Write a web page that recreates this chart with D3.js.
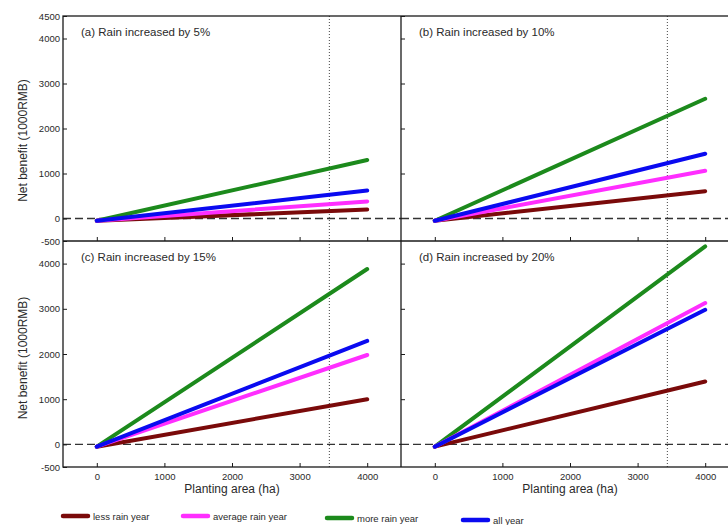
<!DOCTYPE html>
<html>
<head>
<meta charset="utf-8">
<script src="https://cdn.jsdelivr.net/npm/d3@7"></script>
<style>
  html, body { margin: 0; padding: 0; background: #fff; }
  svg { display: block; font-family: "Liberation Sans", Arial, sans-serif; }
</style>
</head>
<body>
<svg id="chart" width="728" height="525"></svg>
<script>
// ---- data ----
const panelLabels = ["(a) Rain increased by 5%", "(b) Rain increased by 10%",
                     "(c) Rain increased by 15%", "(d) Rain increased by 20%"];
const seriesNames = ["less rain year", "average rain year", "more rain year", "all year"];
const seriesColors = ["#7a0a0a", "#ff2eff", "#1c8a1c", "#0a0af0"];
const areaPoints = [0, 4000];
const startValue = -50;
// end values at 4000 ha, per panel, per series (less, average, more, all)
const lessRain    = [200, 607, 1000, 1393];
const averageRain = [378, 1060, 1978, 3127];
const moreRain    = [1300, 2660, 3880, 4380];
const allYear     = [622, 1438, 2289, 2978];
const drawOrder = [2, 0, 1, 3]; // more, less, average, all (all drawn on top)
const yTicks = [-500, 0, 1000, 2000, 3000, 4000, 4500];
const xTicks = [0, 1000, 2000, 3000, 4000];
const optimumArea = 3440;
const xDomain = [-500, 4500];
const yDomain = [-500, 4500];

const seriesEnds = [lessRain, averageRain, moreRain, allYear];

// ---- layout ----
const svg = d3.select("#chart");
const colX = [[63, 401], [401, 739]];
const rowY = [[16, 241], [241, 467]];
const textColor = "#2a2a2a";
const frameColor = "#1a1a1a";
const plainFormat = d => String(d);

panelLabels.forEach((label, p) => {
  const col = p % 2, row = Math.floor(p / 2);
  const x = d3.scaleLinear().domain(xDomain).range(colX[col]);
  const y = d3.scaleLinear().domain(yDomain).range([rowY[row][1], rowY[row][0]]);
  const g = svg.append("g");

  // clip
  const clipId = "clip" + p;
  svg.append("clipPath").attr("id", clipId).append("rect")
    .attr("x", colX[col][0]).attr("y", rowY[row][0])
    .attr("width", colX[col][1] - colX[col][0]).attr("height", rowY[row][1] - rowY[row][0]);

  // zero dashed line
  g.append("line")
    .attr("x1", colX[col][0]).attr("x2", colX[col][1])
    .attr("y1", y(0)).attr("y2", y(0))
    .attr("stroke", "#333").attr("stroke-width", 1.4).attr("stroke-dasharray", "8,4");

  // dotted vertical line
  g.append("line")
    .attr("x1", x(optimumArea)).attr("x2", x(optimumArea))
    .attr("y1", rowY[row][0]).attr("y2", rowY[row][1])
    .attr("stroke", "#444").attr("stroke-width", 1).attr("stroke-dasharray", "1,2");

  // series lines
  const line = d3.line().x(d => x(d[0])).y(d => y(d[1]));
  const lg = g.append("g").attr("clip-path", `url(#${clipId})`);
  drawOrder.forEach(s => {
    const pts = [[areaPoints[0], startValue], [areaPoints[1], seriesEnds[s][p]]];
    lg.append("path").datum(pts)
      .attr("d", line)
      .attr("fill", "none")
      .attr("stroke", seriesColors[s])
      .attr("stroke-width", 4)
      .attr("stroke-linecap", "round");
  });

  // y axis (ticks inward)
  const yValues = row === 0 ? yTicks : yTicks.filter(v => v !== 4500);
  const yAxis = d3.axisLeft(y).tickValues(col === 0 ? yValues : yValues.filter(v => v > 0))
    .tickSize(-4).tickSizeOuter(0).tickPadding(3)
    .tickFormat(col === 0 ? plainFormat : "");
  const ya = g.append("g").attr("transform", `translate(${colX[col][0]},0)`).call(yAxis);
  ya.select(".domain").remove();
  ya.selectAll("line").attr("stroke", frameColor);
  ya.selectAll("text").attr("fill", textColor).attr("font-size", 9.5);

  // x axis (ticks inward)
  const xAxis = d3.axisBottom(x).tickValues(xTicks)
    .tickSize(-4).tickSizeOuter(0).tickPadding(6)
    .tickFormat(row === 1 ? plainFormat : "");
  const xa = g.append("g").attr("transform", `translate(0,${rowY[row][1]})`).call(xAxis);
  xa.select(".domain").remove();
  xa.selectAll("line").attr("stroke", frameColor);
  xa.selectAll("text").attr("fill", textColor).attr("font-size", 9.5);

  // panel label
  g.append("text")
    .attr("x", colX[col][0] + 18).attr("y", rowY[row][0] + 20)
    .attr("font-size", 11.5).attr("fill", textColor)
    .text(label);

  // axis titles
  if (row === 1) {
    g.append("text")
      .attr("x", x(2000)).attr("y", 493)
      .attr("text-anchor", "middle").attr("font-size", 12).attr("fill", textColor)
      .text("Planting area (ha)");
  }
  if (col === 0) {
    const cy = (rowY[row][0] + rowY[row][1]) / 2 + (row === 0 ? 12 : 4);
    g.append("text")
      .attr("transform", `translate(27,${cy}) rotate(-90)`)
      .attr("text-anchor", "middle").attr("font-size", 12).attr("fill", textColor)
      .text("Net benefit (1000RMB)");
  }
});

// frame
const frame = svg.append("g").attr("stroke", frameColor).attr("stroke-width", 1.3).attr("fill", "none");
frame.append("rect").attr("x", colX[0][0]).attr("y", rowY[0][0])
  .attr("width", colX[1][1] - colX[0][0]).attr("height", rowY[1][1] - rowY[0][0]);
frame.append("line").attr("x1", colX[0][1]).attr("x2", colX[0][1]).attr("y1", rowY[0][0]).attr("y2", rowY[1][1]);
frame.append("line").attr("x1", colX[0][0]).attr("x2", colX[1][1]).attr("y1", rowY[0][1]).attr("y2", rowY[0][1]);

// legend
const legendX = [63, 183, 327, 463];
const legendY = [516, 516, 518, 520];
const legend = svg.append("g");
seriesNames.forEach((name, i) => {
  legend.append("line")
    .attr("x1", legendX[i]).attr("x2", legendX[i] + 25)
    .attr("y1", legendY[i]).attr("y2", legendY[i])
    .attr("stroke", seriesColors[i]).attr("stroke-width", 4.5).attr("stroke-linecap", "round");
  legend.append("text")
    .attr("x", legendX[i] + 30).attr("y", legendY[i] + 3.5)
    .attr("font-size", 9.5).attr("fill", textColor)
    .text(name);
});
</script>
</body>
</html>
